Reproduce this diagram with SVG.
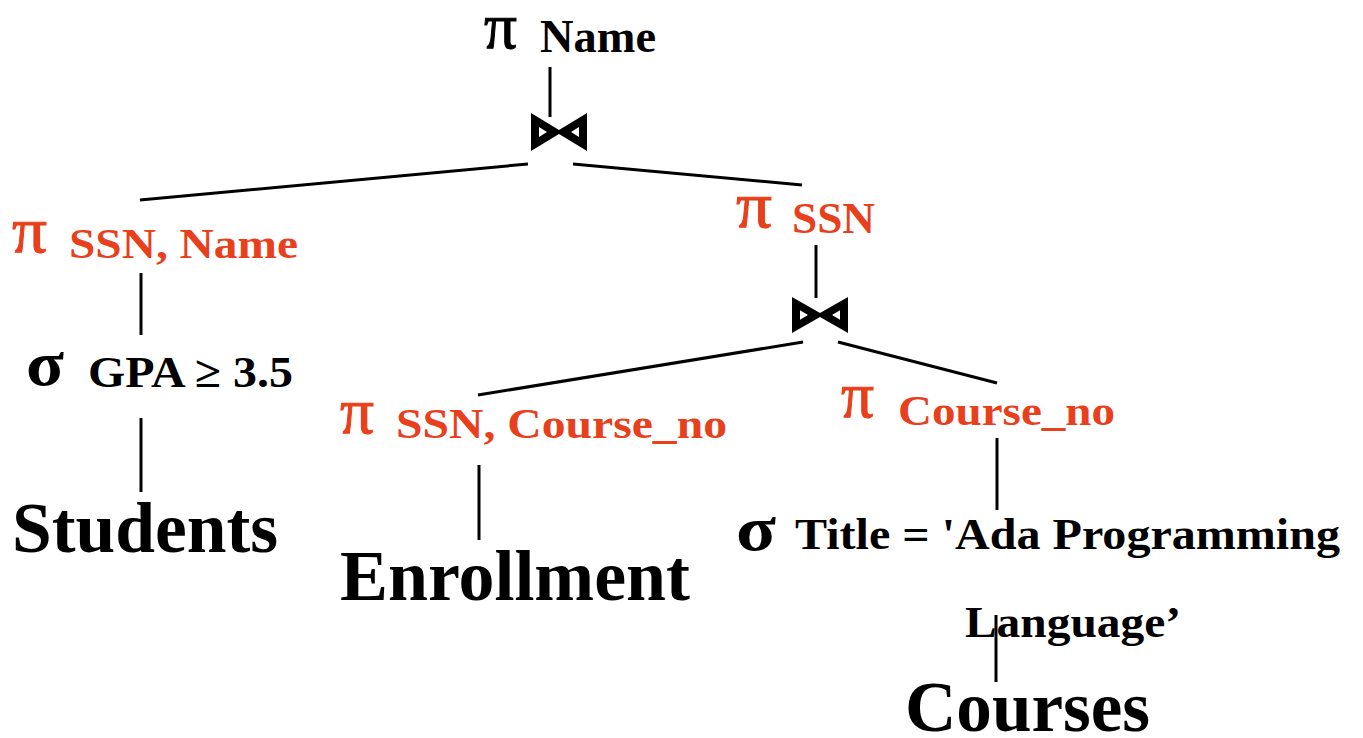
<svg xmlns="http://www.w3.org/2000/svg" width="1363" height="738" viewBox="0 0 1363 738">
  <style>
    .lbl { font-family: "Liberation Serif", "Times New Roman", serif; font-weight: bold; }
    .op { font-family: "Liberation Serif", "Times New Roman", serif; font-size: 66px; }
    .sig { font-weight: bold; font-size: 64px; }
    .red { fill: #e8401c; }
    .blk { fill: #000000; }
    .rel { font-family: "Liberation Serif", "Times New Roman", serif; font-weight: bold; font-size: 72px; fill: #000000; }
    .edge { stroke: #000000; stroke-width: 3; fill: none; }
    .join { fill: #000000; fill-rule: evenodd; }
  </style>
  <defs>
    <!-- natural join bow-tie, centred on (0,0) -->
    <path id="bowtie" d="M-28,-19 L0,-2 L28,-19 L28,19 L0,2 L-28,19 Z M-20,-5 L-12,0 L-20,5 Z M20,-5 L12,0 L20,5 Z"/>
  </defs>
  <rect width="1363" height="738" fill="#ffffff"/>

  <g id="connectors">
    <line class="edge" x1="550" y1="67" x2="550" y2="117"/>
    <line class="edge" x1="528" y1="164" x2="140" y2="200"/>
    <line class="edge" x1="573" y1="164" x2="802" y2="185"/>
    <line class="edge" x1="141" y1="273" x2="141" y2="335"/>
    <line class="edge" x1="141" y1="418" x2="141" y2="492"/>
    <line class="edge" x1="816" y1="245" x2="816" y2="298"/>
    <line class="edge" x1="803" y1="342" x2="478" y2="395"/>
    <line class="edge" x1="838" y1="342" x2="997" y2="383"/>
    <line class="edge" x1="479" y1="465" x2="479" y2="540"/>
    <line class="edge" x1="997" y1="438" x2="997" y2="510"/>
    <line class="edge" x1="996" y1="615" x2="996" y2="682"/>
  </g>

  <g id="proj-name">
    <text class="op blk" x="484" y="48" textLength="33" lengthAdjust="spacingAndGlyphs" stroke="#000" stroke-width="1">π</text>
    <text class="lbl blk" x="540" y="52" font-size="46" textLength="116" lengthAdjust="spacingAndGlyphs">Name</text>
  </g>

  <g id="join-top">
    <use href="#bowtie" class="join" x="559" y="132"/>
  </g>

  <g id="proj-ssn-name">
    <text class="op red" x="12" y="252" textLength="35" lengthAdjust="spacingAndGlyphs" stroke="#e8401c" stroke-width="1">π</text>
    <text class="lbl red" x="69" y="258" font-size="42" textLength="229" lengthAdjust="spacingAndGlyphs">SSN, Name</text>
  </g>

  <g id="proj-ssn">
    <text class="op red" x="736" y="227" textLength="36" lengthAdjust="spacingAndGlyphs" stroke="#e8401c" stroke-width="1">π</text>
    <text class="lbl red" x="792" y="233" font-size="44" textLength="83" lengthAdjust="spacingAndGlyphs">SSN</text>
  </g>

  <g id="select-gpa">
    <text class="op sig blk" x="26" y="385" textLength="38" lengthAdjust="spacingAndGlyphs">σ</text>
    <text class="lbl blk" x="88" y="387" font-size="44" textLength="205" lengthAdjust="spacingAndGlyphs">GPA ≥ 3.5</text>
  </g>

  <g id="join-inner">
    <use href="#bowtie" class="join" transform="translate(820 315) scale(1 0.95)"/>
  </g>

  <g id="proj-ssn-course">
    <text class="op red" x="340" y="433" textLength="34" lengthAdjust="spacingAndGlyphs" stroke="#e8401c" stroke-width="1">π</text>
    <text class="lbl red" x="396" y="438" font-size="42" textLength="331" lengthAdjust="spacingAndGlyphs">SSN, Course_no</text>
  </g>

  <g id="proj-course">
    <text class="op red" x="841" y="417" textLength="33" lengthAdjust="spacingAndGlyphs" stroke="#e8401c" stroke-width="1">π</text>
    <text class="lbl red" x="898" y="425" font-size="42" textLength="217" lengthAdjust="spacingAndGlyphs">Course_no</text>
  </g>

  <g id="select-title">
    <text class="op sig blk" x="736" y="550" textLength="40" lengthAdjust="spacingAndGlyphs">σ</text>
    <text class="lbl blk" x="795" y="549" font-size="44" textLength="545" lengthAdjust="spacingAndGlyphs">Title = 'Ada Programming</text>
    <text class="lbl blk" x="965" y="637" font-size="44" textLength="216" lengthAdjust="spacingAndGlyphs">Language’</text>
  </g>

  <g id="students">
    <text class="rel" x="12" y="552" textLength="266" lengthAdjust="spacingAndGlyphs">Students</text>
  </g>

  <g id="enrollment">
    <text class="rel" x="340" y="600" textLength="350" lengthAdjust="spacingAndGlyphs">Enrollment</text>
  </g>

  <g id="courses">
    <text class="rel" x="905" y="731" textLength="245" lengthAdjust="spacingAndGlyphs">Courses</text>
  </g>
</svg>
